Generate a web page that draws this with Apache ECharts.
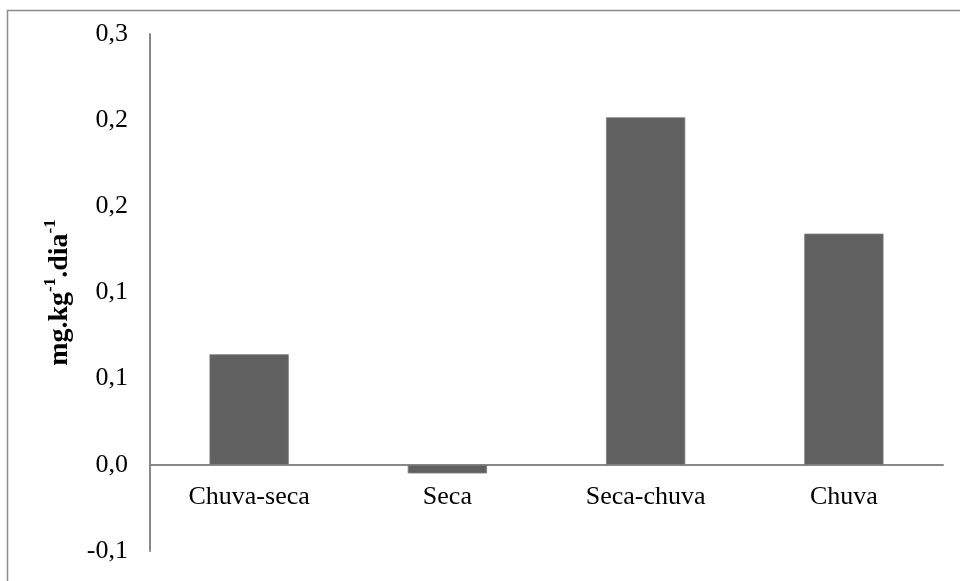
<!DOCTYPE html>
<html>
<head>
<meta charset="utf-8">
<script src="https://cdn.jsdelivr.net/npm/echarts@6/dist/echarts.min.js"></script>
<style>
  html, body { margin: 0; padding: 0; background: #fff; }
  #chart { width: 960px; height: 581px; }
</style>
</head>
<body>
<div id="chart"></div>
<script>
// Períodos sazonais e taxa (mg.kg-1.dia-1)
const categories = ['Chuva-seca', 'Seca', 'Seca-chuva', 'Chuva'];
const values = [0.077, -0.006, 0.242, 0.161];

// Escala do eixo Y
const yMin = -0.06;
const yMax = 0.3;
const yStep = 0.06;

const serif = '"Liberation Serif", "DejaVu Serif", serif';
const axisGray = '#888888';

const W = 960, H = 581;
const grid = { left: 150, right: 17, top: 34, bottom: 30 };
const plotH = H - grid.top - grid.bottom;
// the category axis sits on the zero line, labels included
const zeroOffset = -((0 - yMin) / (yMax - yMin)) * plotH;

const chart = echarts.init(document.getElementById('chart'), null, { renderer: 'canvas' });

chart.setOption({
  animation: false,
  backgroundColor: '#ffffff',
  grid: Object.assign({ containLabel: false }, grid),
  xAxis: {
    type: 'category',
    data: categories,
    position: 'bottom',
    offset: zeroOffset,
    axisLine: { onZero: false, lineStyle: { color: axisGray, width: 2 } },
    axisTick: { show: false },
    axisLabel: { color: '#000', fontFamily: serif, fontSize: 26, margin: 19 }
  },
  yAxis: {
    type: 'value',
    min: yMin,
    max: yMax,
    interval: yStep,
    splitLine: { show: false },
    axisTick: { show: false },
    axisLine: { show: true, lineStyle: { color: axisGray, width: 2 } },
    axisLabel: {
      color: '#000',
      fontFamily: serif,
      fontSize: 26,
      margin: 22,
      formatter: v => {
        const r = Math.round(v * 10 + (v < 0 ? -1e-9 : 1e-9)) / 10;
        return r.toFixed(1).replace('.', ',');
      }
    },
    name: '{b|mg.kg}{s|-1}{b|.dia}{s|-1}',
    nameLocation: 'middle',
    nameRotate: 90,
    nameGap: 76,
    nameTextStyle: {
      rich: {
        b: { fontFamily: serif, fontSize: 28, fontWeight: 'bold', color: '#000', verticalAlign: 'bottom', lineHeight: 32 },
        s: { fontFamily: serif, fontSize: 17, fontWeight: 'bold', color: '#000', verticalAlign: 'top', lineHeight: 32, padding: [0, 0, 10, 0] }
      }
    }
  },
  series: [{
    type: 'bar',
    data: values,
    barCategoryGap: '60%',
    itemStyle: { color: '#606060', borderColor: '#808080', borderWidth: 0.8 }
  }],
  graphic: [{
    type: 'rect',
    shape: { x: 7.5, y: 10.5, width: 1000, height: 1000 },
    style: { fill: 'none', stroke: '#8c8c8c', lineWidth: 1.5 },
    silent: true
  }]
});
</script>
</body>
</html>
